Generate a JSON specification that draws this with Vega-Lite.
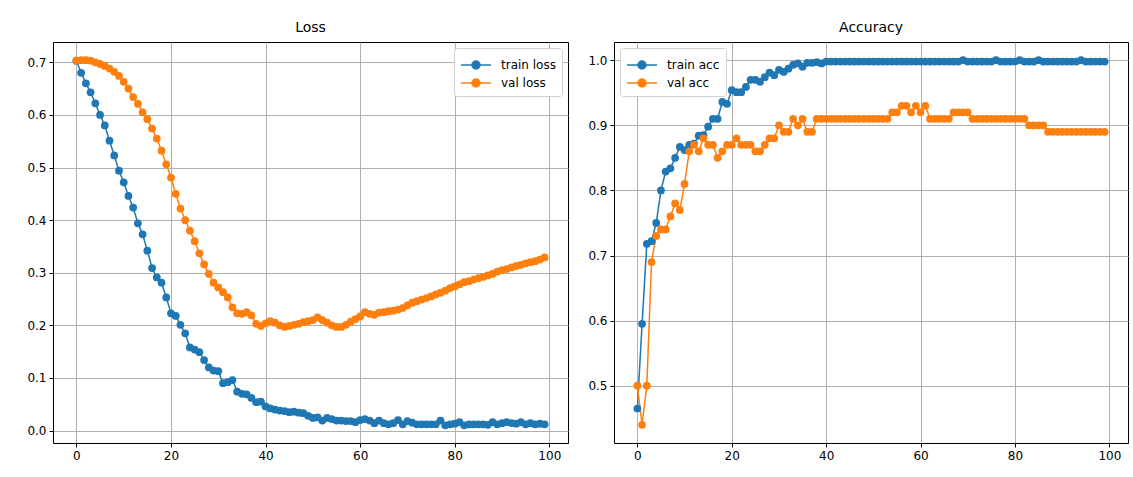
{
  "$schema": "https://vega.github.io/schema/vega-lite/v6.json",
  "padding": {"left": 26, "top": 20, "right": 8, "bottom": 5},
  "spacing": 18,
  "config": {
    "font": "DejaVu Sans",
    "view": {"stroke": "black", "strokeWidth": 1},
    "axis": {"grid": true, "gridColor": "#b0b0b0", "gridWidth": 1, "gridOpacity": 1, "domain": false, "ticks": true, "tickColor": "black", "tickSize": 4, "labelFontSize": 12, "labelColor": "black", "labelPadding": 3, "title": null},
    "title": {"fontSize": 14, "fontWeight": "normal", "offset": 7, "color": "black", "anchor": "middle"},
    "legend": {"title": null, "offset": 6, "padding": 6, "fillColor": "white", "strokeColor": "#d0d0d0", "cornerRadius": 3, "labelFontSize": 12, "labelColor": "black", "symbolType": "M-1,0L2,0M0.1,0A0.4,0.4,0,1,1,0.9,0A0.4,0.4,0,1,1,0.1,0Z", "symbolSize": 400, "symbolStrokeWidth": 1.5, "rowPadding": 0, "labelOffset": 19}
  },
  "resolve": {"legend": {"color": "independent"}},
  "datasets": {
    "loss": [
      {"epoch":0,"series":"train loss","value":0.703},{"epoch":1,"series":"train loss","value":0.680},{"epoch":2,"series":"train loss","value":0.660},{"epoch":3,"series":"train loss","value":0.643},{"epoch":4,"series":"train loss","value":0.622},{"epoch":5,"series":"train loss","value":0.600},{"epoch":6,"series":"train loss","value":0.580},{"epoch":7,"series":"train loss","value":0.551},{"epoch":8,"series":"train loss","value":0.523},{"epoch":9,"series":"train loss","value":0.494},
      {"epoch":10,"series":"train loss","value":0.472},{"epoch":11,"series":"train loss","value":0.446},{"epoch":12,"series":"train loss","value":0.424},{"epoch":13,"series":"train loss","value":0.394},{"epoch":14,"series":"train loss","value":0.373},{"epoch":15,"series":"train loss","value":0.342},{"epoch":16,"series":"train loss","value":0.309},{"epoch":17,"series":"train loss","value":0.291},{"epoch":18,"series":"train loss","value":0.281},{"epoch":19,"series":"train loss","value":0.253},
      {"epoch":20,"series":"train loss","value":0.223},{"epoch":21,"series":"train loss","value":0.218},{"epoch":22,"series":"train loss","value":0.201},{"epoch":23,"series":"train loss","value":0.185},{"epoch":24,"series":"train loss","value":0.158},{"epoch":25,"series":"train loss","value":0.154},{"epoch":26,"series":"train loss","value":0.149},{"epoch":27,"series":"train loss","value":0.134},{"epoch":28,"series":"train loss","value":0.120},{"epoch":29,"series":"train loss","value":0.114},
      {"epoch":30,"series":"train loss","value":0.113},{"epoch":31,"series":"train loss","value":0.090},{"epoch":32,"series":"train loss","value":0.092},{"epoch":33,"series":"train loss","value":0.096},{"epoch":34,"series":"train loss","value":0.074},{"epoch":35,"series":"train loss","value":0.070},{"epoch":36,"series":"train loss","value":0.069},{"epoch":37,"series":"train loss","value":0.062},{"epoch":38,"series":"train loss","value":0.054},{"epoch":39,"series":"train loss","value":0.055},
      {"epoch":40,"series":"train loss","value":0.046},{"epoch":41,"series":"train loss","value":0.042},{"epoch":42,"series":"train loss","value":0.040},{"epoch":43,"series":"train loss","value":0.038},{"epoch":44,"series":"train loss","value":0.037},{"epoch":45,"series":"train loss","value":0.035},{"epoch":46,"series":"train loss","value":0.036},{"epoch":47,"series":"train loss","value":0.034},{"epoch":48,"series":"train loss","value":0.033},{"epoch":49,"series":"train loss","value":0.028},
      {"epoch":50,"series":"train loss","value":0.024},{"epoch":51,"series":"train loss","value":0.025},{"epoch":52,"series":"train loss","value":0.019},{"epoch":53,"series":"train loss","value":0.024},{"epoch":54,"series":"train loss","value":0.022},{"epoch":55,"series":"train loss","value":0.019},{"epoch":56,"series":"train loss","value":0.019},{"epoch":57,"series":"train loss","value":0.018},{"epoch":58,"series":"train loss","value":0.018},{"epoch":59,"series":"train loss","value":0.016},
      {"epoch":60,"series":"train loss","value":0.020},{"epoch":61,"series":"train loss","value":0.022},{"epoch":62,"series":"train loss","value":0.019},{"epoch":63,"series":"train loss","value":0.014},{"epoch":64,"series":"train loss","value":0.019},{"epoch":65,"series":"train loss","value":0.014},{"epoch":66,"series":"train loss","value":0.012},{"epoch":67,"series":"train loss","value":0.014},{"epoch":68,"series":"train loss","value":0.020},{"epoch":69,"series":"train loss","value":0.012},
      {"epoch":70,"series":"train loss","value":0.018},{"epoch":71,"series":"train loss","value":0.015},{"epoch":72,"series":"train loss","value":0.012},{"epoch":73,"series":"train loss","value":0.012},{"epoch":74,"series":"train loss","value":0.012},{"epoch":75,"series":"train loss","value":0.012},{"epoch":76,"series":"train loss","value":0.012},{"epoch":77,"series":"train loss","value":0.019},{"epoch":78,"series":"train loss","value":0.010},{"epoch":79,"series":"train loss","value":0.012},
      {"epoch":80,"series":"train loss","value":0.013},{"epoch":81,"series":"train loss","value":0.016},{"epoch":82,"series":"train loss","value":0.010},{"epoch":83,"series":"train loss","value":0.012},{"epoch":84,"series":"train loss","value":0.012},{"epoch":85,"series":"train loss","value":0.012},{"epoch":86,"series":"train loss","value":0.012},{"epoch":87,"series":"train loss","value":0.011},{"epoch":88,"series":"train loss","value":0.016},{"epoch":89,"series":"train loss","value":0.012},
      {"epoch":90,"series":"train loss","value":0.014},{"epoch":91,"series":"train loss","value":0.016},{"epoch":92,"series":"train loss","value":0.014},{"epoch":93,"series":"train loss","value":0.013},{"epoch":94,"series":"train loss","value":0.016},{"epoch":95,"series":"train loss","value":0.012},{"epoch":96,"series":"train loss","value":0.014},{"epoch":97,"series":"train loss","value":0.012},{"epoch":98,"series":"train loss","value":0.013},{"epoch":99,"series":"train loss","value":0.012},
      {"epoch":0,"series":"val loss","value":0.703},{"epoch":1,"series":"val loss","value":0.704},{"epoch":2,"series":"val loss","value":0.704},{"epoch":3,"series":"val loss","value":0.703},{"epoch":4,"series":"val loss","value":0.700},{"epoch":5,"series":"val loss","value":0.697},{"epoch":6,"series":"val loss","value":0.693},{"epoch":7,"series":"val loss","value":0.688},{"epoch":8,"series":"val loss","value":0.682},{"epoch":9,"series":"val loss","value":0.674},
      {"epoch":10,"series":"val loss","value":0.663},{"epoch":11,"series":"val loss","value":0.650},{"epoch":12,"series":"val loss","value":0.634},{"epoch":13,"series":"val loss","value":0.621},{"epoch":14,"series":"val loss","value":0.605},{"epoch":15,"series":"val loss","value":0.592},{"epoch":16,"series":"val loss","value":0.574},{"epoch":17,"series":"val loss","value":0.555},{"epoch":18,"series":"val loss","value":0.532},{"epoch":19,"series":"val loss","value":0.506},
      {"epoch":20,"series":"val loss","value":0.481},{"epoch":21,"series":"val loss","value":0.450},{"epoch":22,"series":"val loss","value":0.422},{"epoch":23,"series":"val loss","value":0.400},{"epoch":24,"series":"val loss","value":0.380},{"epoch":25,"series":"val loss","value":0.360},{"epoch":26,"series":"val loss","value":0.337},{"epoch":27,"series":"val loss","value":0.316},{"epoch":28,"series":"val loss","value":0.298},{"epoch":29,"series":"val loss","value":0.281},
      {"epoch":30,"series":"val loss","value":0.272},{"epoch":31,"series":"val loss","value":0.263},{"epoch":32,"series":"val loss","value":0.253},{"epoch":33,"series":"val loss","value":0.234},{"epoch":34,"series":"val loss","value":0.223},{"epoch":35,"series":"val loss","value":0.222},{"epoch":36,"series":"val loss","value":0.225},{"epoch":37,"series":"val loss","value":0.219},{"epoch":38,"series":"val loss","value":0.203},{"epoch":39,"series":"val loss","value":0.199},
      {"epoch":40,"series":"val loss","value":0.204},{"epoch":41,"series":"val loss","value":0.208},{"epoch":42,"series":"val loss","value":0.205},{"epoch":43,"series":"val loss","value":0.200},{"epoch":44,"series":"val loss","value":0.197},{"epoch":45,"series":"val loss","value":0.199},{"epoch":46,"series":"val loss","value":0.201},{"epoch":47,"series":"val loss","value":0.203},{"epoch":48,"series":"val loss","value":0.206},{"epoch":49,"series":"val loss","value":0.208},
      {"epoch":50,"series":"val loss","value":0.210},{"epoch":51,"series":"val loss","value":0.215},{"epoch":52,"series":"val loss","value":0.210},{"epoch":53,"series":"val loss","value":0.205},{"epoch":54,"series":"val loss","value":0.200},{"epoch":55,"series":"val loss","value":0.197},{"epoch":56,"series":"val loss","value":0.197},{"epoch":57,"series":"val loss","value":0.201},{"epoch":58,"series":"val loss","value":0.207},{"epoch":59,"series":"val loss","value":0.212},
      {"epoch":60,"series":"val loss","value":0.217},{"epoch":61,"series":"val loss","value":0.225},{"epoch":62,"series":"val loss","value":0.222},{"epoch":63,"series":"val loss","value":0.220},{"epoch":64,"series":"val loss","value":0.224},{"epoch":65,"series":"val loss","value":0.225},{"epoch":66,"series":"val loss","value":0.227},{"epoch":67,"series":"val loss","value":0.228},{"epoch":68,"series":"val loss","value":0.230},{"epoch":69,"series":"val loss","value":0.233},
      {"epoch":70,"series":"val loss","value":0.238},{"epoch":71,"series":"val loss","value":0.243},{"epoch":72,"series":"val loss","value":0.246},{"epoch":73,"series":"val loss","value":0.249},{"epoch":74,"series":"val loss","value":0.252},{"epoch":75,"series":"val loss","value":0.255},{"epoch":76,"series":"val loss","value":0.259},{"epoch":77,"series":"val loss","value":0.262},{"epoch":78,"series":"val loss","value":0.266},{"epoch":79,"series":"val loss","value":0.271},
      {"epoch":80,"series":"val loss","value":0.274},{"epoch":81,"series":"val loss","value":0.278},{"epoch":82,"series":"val loss","value":0.282},{"epoch":83,"series":"val loss","value":0.284},{"epoch":84,"series":"val loss","value":0.287},{"epoch":85,"series":"val loss","value":0.290},{"epoch":86,"series":"val loss","value":0.292},{"epoch":87,"series":"val loss","value":0.295},{"epoch":88,"series":"val loss","value":0.298},{"epoch":89,"series":"val loss","value":0.302},
      {"epoch":90,"series":"val loss","value":0.305},{"epoch":91,"series":"val loss","value":0.307},{"epoch":92,"series":"val loss","value":0.310},{"epoch":93,"series":"val loss","value":0.313},{"epoch":94,"series":"val loss","value":0.315},{"epoch":95,"series":"val loss","value":0.318},{"epoch":96,"series":"val loss","value":0.320},{"epoch":97,"series":"val loss","value":0.322},{"epoch":98,"series":"val loss","value":0.325},{"epoch":99,"series":"val loss","value":0.329}
    ],
    "acc": [
      {"epoch":0,"series":"train acc","value":0.465},{"epoch":1,"series":"train acc","value":0.595},{"epoch":2,"series":"train acc","value":0.718},{"epoch":3,"series":"train acc","value":0.722},{"epoch":4,"series":"train acc","value":0.750},{"epoch":5,"series":"train acc","value":0.800},{"epoch":6,"series":"train acc","value":0.829},{"epoch":7,"series":"train acc","value":0.834},{"epoch":8,"series":"train acc","value":0.850},{"epoch":9,"series":"train acc","value":0.867},
      {"epoch":10,"series":"train acc","value":0.862},{"epoch":11,"series":"train acc","value":0.870},{"epoch":12,"series":"train acc","value":0.872},{"epoch":13,"series":"train acc","value":0.884},{"epoch":14,"series":"train acc","value":0.885},{"epoch":15,"series":"train acc","value":0.898},{"epoch":16,"series":"train acc","value":0.910},{"epoch":17,"series":"train acc","value":0.910},{"epoch":18,"series":"train acc","value":0.936},{"epoch":19,"series":"train acc","value":0.933},
      {"epoch":20,"series":"train acc","value":0.954},{"epoch":21,"series":"train acc","value":0.951},{"epoch":22,"series":"train acc","value":0.951},{"epoch":23,"series":"train acc","value":0.959},{"epoch":24,"series":"train acc","value":0.970},{"epoch":25,"series":"train acc","value":0.970},{"epoch":26,"series":"train acc","value":0.967},{"epoch":27,"series":"train acc","value":0.974},{"epoch":28,"series":"train acc","value":0.981},{"epoch":29,"series":"train acc","value":0.977},
      {"epoch":30,"series":"train acc","value":0.985},{"epoch":31,"series":"train acc","value":0.982},{"epoch":32,"series":"train acc","value":0.987},{"epoch":33,"series":"train acc","value":0.993},{"epoch":34,"series":"train acc","value":0.995},{"epoch":35,"series":"train acc","value":0.990},{"epoch":36,"series":"train acc","value":0.996},{"epoch":37,"series":"train acc","value":0.996},{"epoch":38,"series":"train acc","value":0.997},{"epoch":39,"series":"train acc","value":0.995},
      {"epoch":40,"series":"train acc","value":0.998},{"epoch":41,"series":"train acc","value":0.998},{"epoch":42,"series":"train acc","value":0.998},{"epoch":43,"series":"train acc","value":0.998},{"epoch":44,"series":"train acc","value":0.998},{"epoch":45,"series":"train acc","value":0.998},{"epoch":46,"series":"train acc","value":0.998},{"epoch":47,"series":"train acc","value":0.998},{"epoch":48,"series":"train acc","value":0.998},{"epoch":49,"series":"train acc","value":0.998},
      {"epoch":50,"series":"train acc","value":0.998},{"epoch":51,"series":"train acc","value":0.998},{"epoch":52,"series":"train acc","value":0.998},{"epoch":53,"series":"train acc","value":0.998},{"epoch":54,"series":"train acc","value":0.998},{"epoch":55,"series":"train acc","value":0.998},{"epoch":56,"series":"train acc","value":0.998},{"epoch":57,"series":"train acc","value":0.998},{"epoch":58,"series":"train acc","value":0.998},{"epoch":59,"series":"train acc","value":0.998},
      {"epoch":60,"series":"train acc","value":0.998},{"epoch":61,"series":"train acc","value":0.998},{"epoch":62,"series":"train acc","value":0.998},{"epoch":63,"series":"train acc","value":0.998},{"epoch":64,"series":"train acc","value":0.998},{"epoch":65,"series":"train acc","value":0.998},{"epoch":66,"series":"train acc","value":0.998},{"epoch":67,"series":"train acc","value":0.998},{"epoch":68,"series":"train acc","value":0.998},{"epoch":69,"series":"train acc","value":1.0},
      {"epoch":70,"series":"train acc","value":0.998},{"epoch":71,"series":"train acc","value":0.998},{"epoch":72,"series":"train acc","value":0.998},{"epoch":73,"series":"train acc","value":0.998},{"epoch":74,"series":"train acc","value":0.998},{"epoch":75,"series":"train acc","value":0.998},{"epoch":76,"series":"train acc","value":1.0},{"epoch":77,"series":"train acc","value":0.998},{"epoch":78,"series":"train acc","value":0.998},{"epoch":79,"series":"train acc","value":0.998},
      {"epoch":80,"series":"train acc","value":0.998},{"epoch":81,"series":"train acc","value":1.0},{"epoch":82,"series":"train acc","value":0.998},{"epoch":83,"series":"train acc","value":0.998},{"epoch":84,"series":"train acc","value":0.998},{"epoch":85,"series":"train acc","value":1.0},{"epoch":86,"series":"train acc","value":0.998},{"epoch":87,"series":"train acc","value":0.998},{"epoch":88,"series":"train acc","value":0.998},{"epoch":89,"series":"train acc","value":0.998},
      {"epoch":90,"series":"train acc","value":0.998},{"epoch":91,"series":"train acc","value":0.998},{"epoch":92,"series":"train acc","value":0.998},{"epoch":93,"series":"train acc","value":0.998},{"epoch":94,"series":"train acc","value":1.0},{"epoch":95,"series":"train acc","value":0.998},{"epoch":96,"series":"train acc","value":0.998},{"epoch":97,"series":"train acc","value":0.998},{"epoch":98,"series":"train acc","value":0.998},{"epoch":99,"series":"train acc","value":0.998},
      {"epoch":0,"series":"val acc","value":0.50},{"epoch":1,"series":"val acc","value":0.44},{"epoch":2,"series":"val acc","value":0.50},{"epoch":3,"series":"val acc","value":0.69},{"epoch":4,"series":"val acc","value":0.73},{"epoch":5,"series":"val acc","value":0.74},{"epoch":6,"series":"val acc","value":0.74},{"epoch":7,"series":"val acc","value":0.76},{"epoch":8,"series":"val acc","value":0.78},{"epoch":9,"series":"val acc","value":0.77},
      {"epoch":10,"series":"val acc","value":0.81},{"epoch":11,"series":"val acc","value":0.86},{"epoch":12,"series":"val acc","value":0.87},{"epoch":13,"series":"val acc","value":0.86},{"epoch":14,"series":"val acc","value":0.88},{"epoch":15,"series":"val acc","value":0.87},{"epoch":16,"series":"val acc","value":0.87},{"epoch":17,"series":"val acc","value":0.85},{"epoch":18,"series":"val acc","value":0.86},{"epoch":19,"series":"val acc","value":0.87},
      {"epoch":20,"series":"val acc","value":0.87},{"epoch":21,"series":"val acc","value":0.88},{"epoch":22,"series":"val acc","value":0.87},{"epoch":23,"series":"val acc","value":0.87},{"epoch":24,"series":"val acc","value":0.87},{"epoch":25,"series":"val acc","value":0.86},{"epoch":26,"series":"val acc","value":0.86},{"epoch":27,"series":"val acc","value":0.87},{"epoch":28,"series":"val acc","value":0.88},{"epoch":29,"series":"val acc","value":0.88},
      {"epoch":30,"series":"val acc","value":0.90},{"epoch":31,"series":"val acc","value":0.89},{"epoch":32,"series":"val acc","value":0.89},{"epoch":33,"series":"val acc","value":0.91},{"epoch":34,"series":"val acc","value":0.90},{"epoch":35,"series":"val acc","value":0.91},{"epoch":36,"series":"val acc","value":0.89},{"epoch":37,"series":"val acc","value":0.89},{"epoch":38,"series":"val acc","value":0.91},{"epoch":39,"series":"val acc","value":0.91},
      {"epoch":40,"series":"val acc","value":0.91},{"epoch":41,"series":"val acc","value":0.91},{"epoch":42,"series":"val acc","value":0.91},{"epoch":43,"series":"val acc","value":0.91},{"epoch":44,"series":"val acc","value":0.91},{"epoch":45,"series":"val acc","value":0.91},{"epoch":46,"series":"val acc","value":0.91},{"epoch":47,"series":"val acc","value":0.91},{"epoch":48,"series":"val acc","value":0.91},{"epoch":49,"series":"val acc","value":0.91},
      {"epoch":50,"series":"val acc","value":0.91},{"epoch":51,"series":"val acc","value":0.91},{"epoch":52,"series":"val acc","value":0.91},{"epoch":53,"series":"val acc","value":0.91},{"epoch":54,"series":"val acc","value":0.92},{"epoch":55,"series":"val acc","value":0.92},{"epoch":56,"series":"val acc","value":0.93},{"epoch":57,"series":"val acc","value":0.93},{"epoch":58,"series":"val acc","value":0.92},{"epoch":59,"series":"val acc","value":0.93},
      {"epoch":60,"series":"val acc","value":0.92},{"epoch":61,"series":"val acc","value":0.93},{"epoch":62,"series":"val acc","value":0.91},{"epoch":63,"series":"val acc","value":0.91},{"epoch":64,"series":"val acc","value":0.91},{"epoch":65,"series":"val acc","value":0.91},{"epoch":66,"series":"val acc","value":0.91},{"epoch":67,"series":"val acc","value":0.92},{"epoch":68,"series":"val acc","value":0.92},{"epoch":69,"series":"val acc","value":0.92},
      {"epoch":70,"series":"val acc","value":0.92},{"epoch":71,"series":"val acc","value":0.91},{"epoch":72,"series":"val acc","value":0.91},{"epoch":73,"series":"val acc","value":0.91},{"epoch":74,"series":"val acc","value":0.91},{"epoch":75,"series":"val acc","value":0.91},{"epoch":76,"series":"val acc","value":0.91},{"epoch":77,"series":"val acc","value":0.91},{"epoch":78,"series":"val acc","value":0.91},{"epoch":79,"series":"val acc","value":0.91},
      {"epoch":80,"series":"val acc","value":0.91},{"epoch":81,"series":"val acc","value":0.91},{"epoch":82,"series":"val acc","value":0.91},{"epoch":83,"series":"val acc","value":0.90},{"epoch":84,"series":"val acc","value":0.90},{"epoch":85,"series":"val acc","value":0.90},{"epoch":86,"series":"val acc","value":0.90},{"epoch":87,"series":"val acc","value":0.89},{"epoch":88,"series":"val acc","value":0.89},{"epoch":89,"series":"val acc","value":0.89},
      {"epoch":90,"series":"val acc","value":0.89},{"epoch":91,"series":"val acc","value":0.89},{"epoch":92,"series":"val acc","value":0.89},{"epoch":93,"series":"val acc","value":0.89},{"epoch":94,"series":"val acc","value":0.89},{"epoch":95,"series":"val acc","value":0.89},{"epoch":96,"series":"val acc","value":0.89},{"epoch":97,"series":"val acc","value":0.89},{"epoch":98,"series":"val acc","value":0.89},{"epoch":99,"series":"val acc","value":0.89}
    ]
  },
  "hconcat": [
    {
      "title": {"text": "Loss", "frame": "group"},
      "width": 515,
      "height": 401,
      "data": {"name": "loss"},
      "mark": {"type": "line", "strokeWidth": 1.5, "point": {"filled": true, "size": 60, "opacity": 1}},
      "encoding": {
        "x": {"field": "epoch", "type": "quantitative", "scale": {"domain": [-4.95, 103.95], "nice": false, "zero": false}, "axis": {"values": [0, 20, 40, 60, 80, 100], "format": "d"}},
        "y": {"field": "value", "type": "quantitative", "scale": {"domain": [-0.0236, 0.7386], "nice": false, "zero": false}, "axis": {"values": [0, 0.1, 0.2, 0.3, 0.4, 0.5, 0.6, 0.7], "format": ".1f"}},
        "color": {"field": "series", "type": "nominal",
          "scale": {"domain": ["train loss", "val loss", "train acc", "val acc"], "range": ["#1f77b4", "#ff7f0e", "#1f77b4", "#ff7f0e"]},
          "legend": {"orient": "top-right", "values": ["train loss", "val loss"],
            "encode": {"symbols": {"update": {"fill": {"scale": "color", "field": "value"}, "stroke": {"scale": "color", "field": "value"}, "fillOpacity": {"value": 1}, "strokeOpacity": {"value": 1}, "opacity": {"value": 1}, "strokeWidth": {"value": 1.5}}}}}}
      }
    },
    {
      "title": {"text": "Accuracy", "frame": "group"},
      "width": 514,
      "height": 401,
      "data": {"name": "acc"},
      "mark": {"type": "line", "strokeWidth": 1.5, "point": {"filled": true, "size": 60, "opacity": 1}},
      "encoding": {
        "x": {"field": "epoch", "type": "quantitative", "scale": {"domain": [-4.95, 103.95], "nice": false, "zero": false}, "axis": {"values": [0, 20, 40, 60, 80, 100], "format": "d"}},
        "y": {"field": "value", "type": "quantitative", "scale": {"domain": [0.412, 1.028], "nice": false, "zero": false}, "axis": {"values": [0.5, 0.6, 0.7, 0.8, 0.9, 1.0], "format": ".1f"}},
        "color": {"field": "series", "type": "nominal",
          "scale": {"domain": ["train loss", "val loss", "train acc", "val acc"], "range": ["#1f77b4", "#ff7f0e", "#1f77b4", "#ff7f0e"]},
          "legend": {"orient": "top-left", "values": ["train acc", "val acc"],
            "encode": {"symbols": {"update": {"fill": {"scale": "color", "field": "value"}, "stroke": {"scale": "color", "field": "value"}, "fillOpacity": {"value": 1}, "strokeOpacity": {"value": 1}, "opacity": {"value": 1}, "strokeWidth": {"value": 1.5}}}}}}
      }
    }
  ]
}
